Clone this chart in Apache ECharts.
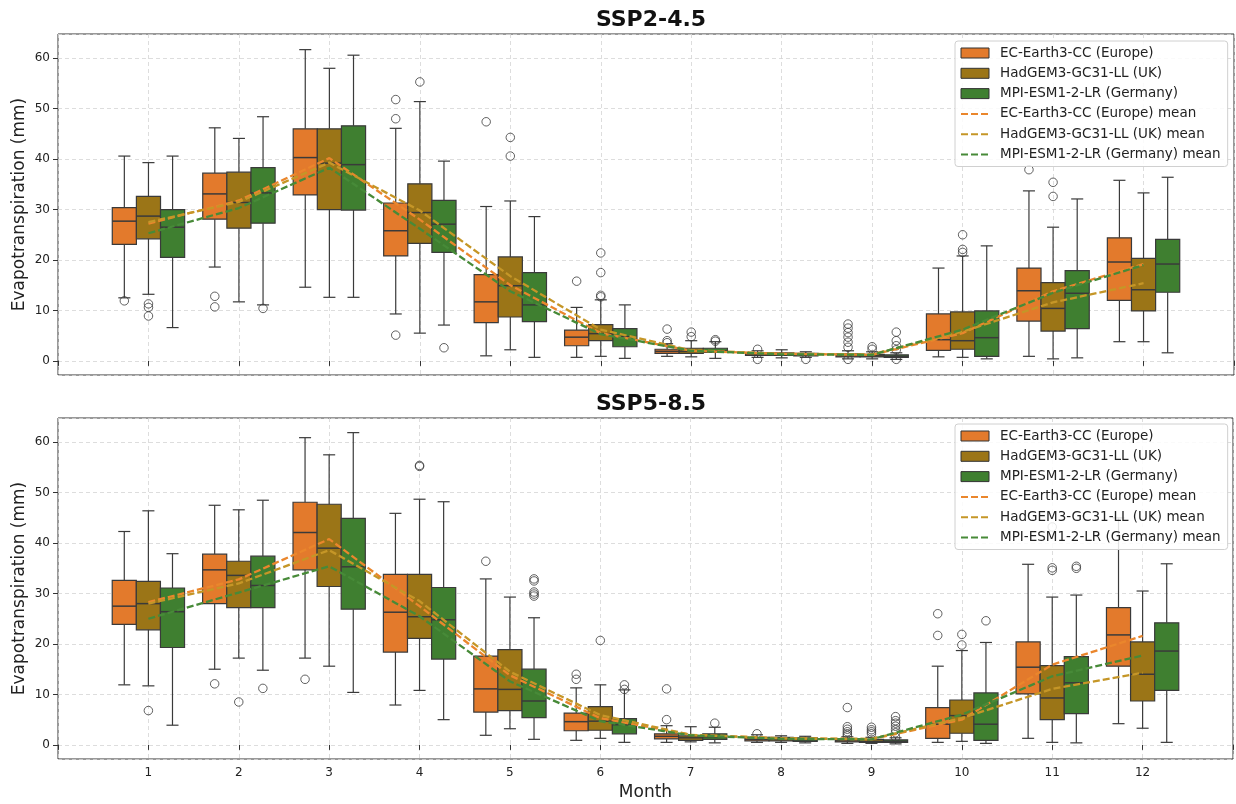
<!DOCTYPE html>
<html><head><meta charset="utf-8">
<script src="https://cdn.jsdelivr.net/npm/echarts@6/dist/echarts.min.js"></script>
<style>html,body{margin:0;padding:0;background:#fff}#c{width:1236px;height:804px}</style>
</head><body><div id="c"></div><script>
// ---------------- DATA ----------------
const months = [1,2,3,4,5,6,7,8,9,10,11,12];
const models = ['EC-Earth3-CC (Europe)', 'HadGEM3-GC31-LL (UK)', 'MPI-ESM1-2-LR (Germany)'];
const panelTitles = ['SSP2-4.5', 'SSP5-8.5'];

// box stats per month: [min whisker, Q1, median, Q3, max whisker]
const ssp245_ec = [[12.5,23.1,27.7,30.4,40.6],[18.6,28.1,33.1,37.2,46.2],[14.6,32.9,40.3,46.0,61.7],[9.3,20.8,25.8,31.3,46.1],[1.0,7.6,11.7,17.1,30.6],[0.7,3.0,4.7,6.1,10.6],[0.9,1.5,1.9,2.3,3.4],[0.7,1.1,1.4,1.6,2.0],[0.4,0.8,1.0,1.4,2.0],[0.8,2.1,4.2,9.3,18.4],[0.9,7.9,13.9,18.4,33.7],[3.8,12.0,19.6,24.4,35.8]];
const ssp245_had = [[13.2,24.2,28.7,32.6,39.3],[11.7,26.3,31.4,37.4,44.1],[12.6,30.0,39.2,46.0,58.0],[5.5,23.3,29.4,35.1,51.4],[2.2,8.7,14.9,20.6,31.7],[0.9,4.0,5.4,7.2,12.1],[0.8,1.5,1.9,2.5,4.0],[0.6,1.1,1.3,1.6,2.2],[0.4,0.8,1.0,1.3,1.8],[0.7,2.3,4.0,9.7,20.8],[0.4,5.9,10.4,15.5,26.5],[3.8,9.9,14.1,20.3,33.3]];
const ssp245_mpi = [[6.6,20.5,26.5,30.0,40.6],[11.1,27.3,33.3,38.3,48.4],[12.6,29.9,38.9,46.6,60.6],[7.1,21.5,27.1,31.8,39.6],[0.7,7.8,11.1,17.5,28.6],[0.5,2.8,4.8,6.4,11.1],[0.5,1.7,2.0,2.5,3.8],[0.7,1.0,1.2,1.5,1.8],[0.3,0.7,0.9,1.2,1.6],[0.4,0.9,4.6,9.9,22.8],[0.6,6.4,13.4,17.9,32.1],[1.6,13.6,19.2,24.1,36.4]];

const ssp245_ec_out = [[1,11.9],[2,12.8],[2,10.7],[4,51.8],[4,48.0],[4,5.1],[5,47.4],[6,15.8],[7,6.3],[7,4.0],[7,3.6],[8,2.3],[8,0.3],[9,7.3],[9,6.5],[9,5.6],[9,4.7],[9,3.7],[9,2.7],[9,0.3],[11,37.9]];
const ssp245_had_out = [[1,11.3],[1,10.6],[1,8.9],[4,55.3],[5,44.3],[5,40.6],[6,21.4],[6,17.5],[6,13.0],[6,12.7],[7,5.7],[7,4.8],[9,2.8],[9,2.3],[10,25.0],[10,22.1],[10,21.5],[11,35.4],[11,32.6]];
const ssp245_mpi_out = [[2,10.4],[4,2.6],[7,4.2],[7,3.9],[8,0.3],[9,5.7],[9,4.0],[9,3.0],[9,2.2],[9,0.3]];

const ssp245_ec_mean = [27.2,31.8,40.2,28.0,15.0,5.5,2.0,1.4,1.2,5.5,13.8,19.2];
const ssp245_had_mean = [27.5,31.5,39.3,29.8,16.8,6.2,2.1,1.4,1.3,5.8,11.6,15.4];
const ssp245_mpi_mean = [25.3,30.3,38.3,26.2,13.8,5.3,2.0,1.3,1.2,6.2,13.5,19.0];

const ssp585_ec = [[11.9,23.9,27.5,32.6,42.3],[15.0,28.0,34.7,37.8,47.5],[17.2,34.7,42.1,48.1,60.9],[7.9,18.4,26.3,33.8,45.9],[1.9,6.5,11.1,17.6,32.9],[0.9,2.8,4.6,6.3,11.3],[0.5,1.2,1.7,2.2,3.8],[0.5,0.8,1.1,1.5,2.0],[0.3,0.6,0.8,1.2,1.6],[0.5,1.3,4.1,7.4,15.6],[1.3,10.1,15.4,20.4,35.8],[4.2,15.6,21.8,27.2,45.0]];
const ssp585_had = [[11.7,22.8,28.0,32.4,46.4],[17.2,27.2,33.6,36.4,46.6],[15.6,31.4,39.0,47.7,57.5],[10.8,21.1,25.4,33.8,48.7],[3.2,6.8,11.0,18.9,29.3],[1.3,2.9,4.7,7.6,11.9],[0.6,0.9,1.4,1.8,3.6],[0.5,0.8,1.1,1.5,1.8],[0.3,0.5,0.7,1.1,1.5],[0.7,2.3,5.8,8.9,18.7],[0.5,5.0,9.3,15.7,29.3],[3.3,8.7,14.0,20.4,30.5]];
const ssp585_mpi = [[3.9,19.3,26.4,31.1,37.9],[14.8,27.2,31.6,37.4,48.5],[10.4,26.9,35.3,44.9,61.9],[5.0,17.0,24.8,31.2,48.2],[1.1,5.4,8.7,15.0,25.2],[0.5,2.2,4.0,5.2,10.9],[0.4,1.1,1.6,2.2,3.5],[0.4,0.7,1.0,1.4,1.7],[0.2,0.5,0.7,1.0,1.4],[0.3,0.9,4.1,10.3,20.3],[0.4,6.2,12.3,17.5,29.7],[0.5,10.8,18.6,24.2,35.9]];

const ssp585_ec_out = [[2,12.1],[3,13.0],[5,36.4],[6,14.0],[6,13.0],[7,11.1],[7,5.0],[8,2.2],[9,7.4],[9,3.6],[9,3.1],[9,2.6],[9,2.2],[9,1.8],[10,26.0],[10,21.7]];
const ssp585_had_out = [[1,6.8],[2,8.5],[4,55.4],[4,55.2],[6,20.7],[9,3.5],[9,3.0],[9,2.6],[9,2.2],[10,21.9],[10,19.8],[11,43.2],[11,35.1],[11,34.6]];
const ssp585_mpi_out = [[2,11.2],[5,32.9],[5,32.5],[5,30.3],[5,29.9],[5,29.5],[6,11.9],[6,11.0],[7,4.3],[9,5.6],[9,4.8],[9,4.3],[9,3.7],[9,3.0],[9,2.4],[9,1.5],[10,24.6],[11,35.4],[11,35.0]];

const ssp585_ec_mean = [28.3,32.8,40.8,27.5,13.8,5.3,2.0,1.3,1.1,5.0,15.9,21.6];
const ssp585_had_mean = [28.0,32.0,38.6,28.5,14.5,5.9,2.0,1.3,1.2,5.3,11.1,14.3];
const ssp585_mpi_mean = [25.0,30.2,35.4,25.5,12.6,4.7,1.9,1.2,1.1,6.0,13.6,17.7];

// ---------------- STYLE ----------------
const boxColors = ['#E37A2C', '#9B7517', '#3F7F30'];
const meanColors = ['#EA862C', '#C59627', '#478A38'];
const LINE = '#3a3a3a';
const BOX_W = 0.8 / 3;
const offsets = [-BOX_W, 0, BOX_W];
const FONT = 'DejaVu Sans';

const panels = [
  {stats: [ssp245_ec, ssp245_had, ssp245_mpi], outs: [ssp245_ec_out, ssp245_had_out, ssp245_mpi_out], means: [ssp245_ec_mean, ssp245_had_mean, ssp245_mpi_mean]},
  {stats: [ssp585_ec, ssp585_had, ssp585_mpi], outs: [ssp585_ec_out, ssp585_had_out, ssp585_mpi_out], means: [ssp585_ec_mean, ssp585_had_mean, ssp585_mpi_mean]}
];

function boxRenderer(offset, color) {
  return function (params, api) {
    const x = api.value(0) + offset;
    const pMin = api.coord([x, api.value(1)]);
    const pQ1 = api.coord([x, api.value(2)]);
    const pMed = api.coord([x, api.value(3)]);
    const pQ3 = api.coord([x, api.value(4)]);
    const pMax = api.coord([x, api.value(5)]);
    const w = api.size([BOX_W, 0])[0];
    const cx = pMed[0];
    const cap = w / 4;
    const ls = {stroke: LINE, lineWidth: 1.2};
    return {type: 'group', children: [
      {type: 'line', shape: {x1: cx, y1: pMax[1], x2: cx, y2: pQ3[1]}, style: ls},
      {type: 'line', shape: {x1: cx, y1: pQ1[1], x2: cx, y2: pMin[1]}, style: ls},
      {type: 'line', shape: {x1: cx - cap, y1: pMax[1], x2: cx + cap, y2: pMax[1]}, style: ls},
      {type: 'line', shape: {x1: cx - cap, y1: pMin[1], x2: cx + cap, y2: pMin[1]}, style: ls},
      {type: 'rect', shape: {x: cx - w / 2, y: pQ3[1], width: w, height: pQ1[1] - pQ3[1]}, style: {fill: color, stroke: LINE, lineWidth: 1.2}},
      {type: 'line', shape: {x1: cx - w / 2, y1: pMed[1], x2: cx + w / 2, y2: pMed[1]}, style: {stroke: LINE, lineWidth: 1.5}}
    ]};
  };
}

const gridTops = [34, 418];
const gridHeight = 341;
const grids = gridTops.map(t => ({left: 58, right: 2, top: t, height: gridHeight, show: true, borderColor: '#333', borderWidth: 1, backgroundColor: 'transparent'}));

const xAxes = [0, 1].map(i => ({
  type: 'value', gridIndex: i, min: 0, max: 13, interval: 1,
  axisLine: {show: false},
  axisTick: {show: true, length: 5, lineStyle: {color: '#333'}},
  axisLabel: {show: i === 1, fontFamily: FONT, fontSize: 12, color: '#222', margin: 8,
    formatter: v => (v >= 1 && v <= 12) ? String(v) : ''},
  splitLine: {show: true, lineStyle: {color: '#d4d4d4', type: [4, 3], width: 0.8}},
  name: i === 1 ? 'Month' : '', nameLocation: 'middle', nameGap: 25,
  nameTextStyle: {fontFamily: FONT, fontSize: 17, color: '#222'}
}));

const yAxes = [0, 1].map(i => ({
  type: 'value', gridIndex: i, min: -2.8, max: 64.8, splitNumber: 7,
  axisLine: {show: false},
  axisTick: {show: true, length: 5, lineStyle: {color: '#333'}},
  axisLabel: {fontFamily: FONT, fontSize: 12, color: '#222', margin: 8, showMinLabel: false, showMaxLabel: false,
    formatter: v => (Math.abs(v % 10) < 1e-6) ? String(v) : ''},
  splitLine: {show: true, lineStyle: {color: '#d4d4d4', type: [4, 3], width: 0.8}},
  name: 'Evapotranspiration (mm)', nameLocation: 'middle', nameGap: 30, nameMoveOverlap: false,
  nameTextStyle: {fontFamily: FONT, fontSize: 17, color: '#222'}
}));

const series = [];
panels.forEach((p, pi) => {
  models.forEach((m, k) => {
    series.push({
      type: 'custom', name: m, xAxisIndex: pi, yAxisIndex: pi, z: 2,
      itemStyle: {color: boxColors[k]},
      renderItem: boxRenderer(offsets[k], boxColors[k]),
      encode: {x: 0, y: [1, 2, 3, 4, 5]},
      data: months.map((mo, j) => [mo].concat(p.stats[k][j]))
    });
  });
  models.forEach((m, k) => {
    series.push({
      type: 'scatter', name: 'outliers ' + pi + '-' + k, xAxisIndex: pi, yAxisIndex: pi, z: 3,
      symbol: 'circle', symbolSize: 8.5, silent: true,
      itemStyle: {color: 'rgba(255,255,255,0)', borderColor: LINE, borderWidth: 1},
      data: p.outs[k].map(o => [o[0] + offsets[k], o[1]])
    });
  });
  models.forEach((m, k) => {
    series.push({
      type: 'line', name: m + ' mean', xAxisIndex: pi, yAxisIndex: pi, z: 4,
      symbol: 'none', showSymbol: false,
      lineStyle: {color: meanColors[k], width: 2.3, type: [7, 3]},
      itemStyle: {color: meanColors[k]},
      data: months.map((mo, j) => [mo, p.means[k][j]])
    });
  });
});

const legendData = models.map((m, k) => ({name: m, icon: 'rect', itemStyle: {color: boxColors[k], borderColor: '#333', borderWidth: 1}}))
  .concat(models.map((m, k) => ({name: m + ' mean', itemStyle: {color: 'rgba(0,0,0,0)', borderColor: 'rgba(0,0,0,0)', borderWidth: 0, opacity: 0},
    lineStyle: {color: meanColors[k], width: 2, type: [7, 3]}})));

const legends = [41, 424].map(t => ({
  orient: 'vertical', left: 955, top: t, data: legendData,
  itemWidth: 28, itemHeight: 10, itemGap: 6.3,
  padding: [5, 7, 5, 5],
  backgroundColor: 'rgba(255,255,255,0.85)', borderColor: '#d0d0d0', borderWidth: 1, borderRadius: 3,
  textStyle: {fontFamily: FONT, fontSize: 13.5, color: '#222', padding: [0, 0, 0, 6]},
  selectedMode: false
}));

const titles = panelTitles.map((t, i) => ({
  text: t, left: 646, top: i === 0 ? 4 : 388, textAlign: 'center',
  textStyle: {fontFamily: FONT, fontSize: 22, fontWeight: 'bold', color: '#111'}
}));

const chart = echarts.init(document.getElementById('c'), null, {renderer: 'canvas'});
chart.setOption({
  animation: false,
  backgroundColor: '#fff',
  title: titles,
  legend: legends,
  grid: grids,
  xAxis: xAxes,
  yAxis: yAxes,
  series: series
});
</script></body></html>
